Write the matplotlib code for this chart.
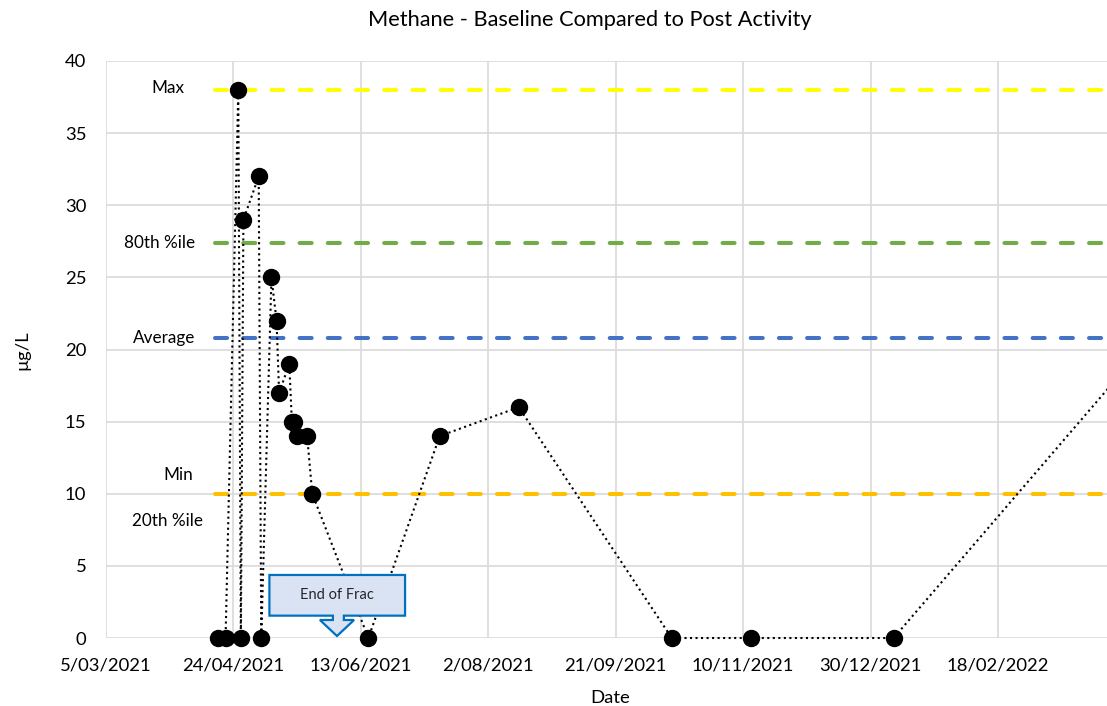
import matplotlib
matplotlib.use("Agg")
import matplotlib.pyplot as plt
import matplotlib.dates as mdates
from matplotlib.patches import Polygon
from matplotlib.ticker import FuncFormatter
import pandas as pd

# sample data (dates are d/mm/yyyy)
sampleDates = ['18/04/2021', '21/04/2021', '26/04/2021', '27/04/2021', '28/04/2021',
               '4/05/2021', '5/05/2021', '9/05/2021', '11/05/2021', '12/05/2021',
               '16/05/2021', '17/05/2021', '18/05/2021', '19/05/2021', '23/05/2021',
               '25/05/2021', '16/06/2021', '14/07/2021', '14/08/2021', '13/10/2021',
               '13/11/2021', '8/01/2022', '25/04/2022']
methane = [0, 0, 38, 0, 29, 32, 0, 25, 22, 17, 19, 15, 15, 14, 14, 10, 0, 14, 16, 0, 0, 0, 22]

# baseline statistics
statNames = ['Max', '80th %ile', 'Average', 'Min']
statValues = [38, 27.4, 20.8, 10]
statColors = ['#FFFF00', '#70AD47', '#4472C4', '#FFC000']
statStart = '17/04/2021'
statEnd = '25/04/2022'

axisStart = '5/03/2021'
tickStepDays = 50
annotationText = 'End of Frac'

plt.rcParams['font.family'] = ['Lato', 'DejaVu Sans']

x = pd.to_datetime(sampleDates, dayfirst=True)
base = pd.to_datetime(axisStart, dayfirst=True)
baseNum = mdates.date2num(base)

fig = plt.figure(figsize=(11.07, 7.06), dpi=100)
ax = fig.add_axes([0.0955, 0.0963, 0.9045, 0.8173])

# reference lines
s0 = pd.to_datetime(statStart, dayfirst=True)
s1 = pd.to_datetime(statEnd, dayfirst=True)
for val, col in zip(statValues, statColors):
    ax.plot([s0, s1], [val, val], color=col, lw=2.9, linestyle=(0, (3.0, 4.0)),
            dash_capstyle='round', zorder=3)

# data series
ax.plot(x, methane, color='black', linestyle=':', lw=1.5, marker='o',
        markersize=11.5, markerfacecolor='black', markeredgecolor='black',
        clip_on=False, zorder=5)

# labels for the reference lines (day offset from axis start, value)
labelPos = [(24.4, 38.1), (21.3, 27.4), (23.1, 20.8), (28.4, 11.3), (24.4, 8.1)]
labelText = statNames + ['20th %ile']
for (d, v), t in zip(labelPos, labelText):
    ax.text(baseNum + d, v, t, ha='center', va='center', fontsize=12.3, zorder=6)

# "End of Frac" down-arrow callout
shape = [(64.2, 4.37), (117.4, 4.37), (117.4, 1.55), (93.4, 1.55), (93.4, 1.25),
         (97.4, 1.25), (90.7, 0.14), (84.0, 1.25), (89.1, 1.25), (89.1, 1.55),
         (64.2, 1.55)]
callout = Polygon([(baseNum + d, v) for d, v in shape], closed=True,
                  facecolor='#DAE3F3', edgecolor='#0070C0', lw=1.6, zorder=7)
ax.add_patch(callout)
ax.text(baseNum + 90.8, 2.98, annotationText, ha='center', va='center',
        fontsize=10.5, color='#262626', zorder=8)

# axes
ax.set_ylim(0, 40)
ax.set_yticks(range(0, 41, 5))
ax.set_xlim(baseNum, baseNum + 392.7)
xt = [baseNum + tickStepDays * i for i in range(8)]
ax.set_xticks(xt)


def fmtDate(val, pos):
    d = mdates.num2date(val)
    return f"{d.day}/{d.month:02d}/{d.year}"


ax.xaxis.set_major_formatter(FuncFormatter(fmtDate))
ax.grid(True, color='#D9D9D9', lw=1.2, zorder=0)
ax.set_axisbelow(True)
for sp in ax.spines.values():
    sp.set_visible(False)
ax.tick_params(axis='both', length=0, labelsize=13.3, colors='black')
ax.tick_params(axis='x', pad=14)
ax.tick_params(axis='y', pad=14)

fig.text(589.5 / 1107, 1 - 20 / 706, 'Methane - Baseline Compared to Post Activity',
         ha='center', va='center', fontsize=15.7)
fig.text(610 / 1107, 1 - 698 / 706, 'Date', ha='center', va='center', fontsize=13.3)
fig.text(22 / 1107, 1 - 350 / 706, 'µg/L', ha='center', va='center', rotation=90,
         fontsize=13.3)

fig.savefig('out.png', dpi=100)
